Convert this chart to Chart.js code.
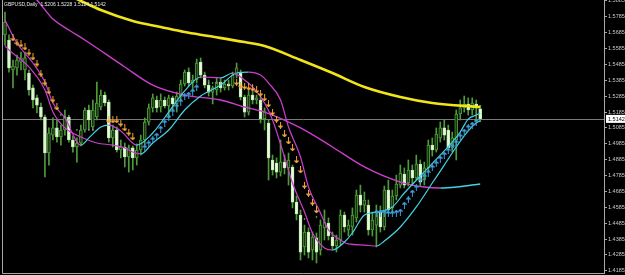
<!DOCTYPE html>
<html>
<head>
<meta charset="utf-8">
<script src="https://cdn.jsdelivr.net/npm/chart.js@4.4.1/dist/chart.umd.min.js"></script>
<style>
  html, body { margin: 0; padding: 0; background: #000; }
  canvas { display: block; }
</style>
</head>
<body>
<canvas id="chart" width="625" height="275"></canvas>
<script>
// Données GBPUSD Daily
const symbolTitle = 'GBPUSD,Daily  1.5206 1.5228 1.5124 1.5142';
const lastPrice = 1.5142;
const tickLabels = ['1.5885', '1.5785', '1.5685', '1.5585', '1.5485', '1.5385', '1.5285', '1.5185', '1.5085',
  '1.4985', '1.4885', '1.4785', '1.4685', '1.4585', '1.4485', '1.4385', '1.4285', '1.4185'];

const opens = [
  1.5671, 1.5639, 1.5450, 1.5463, 1.5500, 1.5450, 1.5431, 1.5337, 1.5274, 1.5217,
  1.5154, 1.4927, 1.5040, 1.5085, 1.5028, 1.5072, 1.5154, 1.5009, 1.4965, 1.4990,
  1.5072, 1.5198, 1.5091, 1.5154, 1.5217, 1.5292, 1.5248, 1.5022, 1.5072, 1.4946,
  1.4965, 1.4902, 1.4959, 1.4896, 1.4946, 1.5009, 1.5122, 1.5211, 1.5261, 1.5217,
  1.5261, 1.5223, 1.5274, 1.5236, 1.5286, 1.5362, 1.5437, 1.5368, 1.5387, 1.5500,
  1.5418, 1.5355, 1.5311, 1.5324, 1.5374, 1.5337, 1.5362, 1.5349, 1.5418, 1.5431,
  1.5280, 1.5185, 1.5292, 1.5261, 1.5261, 1.5141, 1.5116, 1.4883, 1.4864, 1.4807,
  1.4870, 1.4833, 1.4839, 1.4618, 1.4536, 1.4335, 1.4429, 1.4316, 1.4392, 1.4316,
  1.4455, 1.4486, 1.4398, 1.4341, 1.4379, 1.4536, 1.4442, 1.4461, 1.4518, 1.4662,
  1.4599, 1.4599, 1.4442, 1.4473, 1.4555, 1.4461, 1.4694, 1.4581, 1.4656, 1.4725,
  1.4795, 1.4738, 1.4820, 1.4770, 1.4858, 1.4757, 1.4833, 1.4977, 1.4946, 1.5022,
  1.5085, 1.5072, 1.4959, 1.5009, 1.5173, 1.5211, 1.5236, 1.5198, 1.5236, 1.5206
];
const highs = [
  1.5815, 1.5671, 1.5513, 1.5544, 1.5563, 1.5563, 1.5450, 1.5355, 1.5292, 1.5242,
  1.5166, 1.5085, 1.5148, 1.5135, 1.5103, 1.5198, 1.5166, 1.5034, 1.5022, 1.5103,
  1.5211, 1.5229, 1.5261, 1.5374, 1.5324, 1.5311, 1.5261, 1.5103, 1.5091, 1.5009,
  1.4990, 1.4977, 1.4971, 1.4984, 1.5040, 1.5148, 1.5236, 1.5299, 1.5286, 1.5299,
  1.5280, 1.5292, 1.5286, 1.5311, 1.5387, 1.5450, 1.5463, 1.5418, 1.5519, 1.5526,
  1.5437, 1.5387, 1.5349, 1.5400, 1.5400, 1.5387, 1.5387, 1.5437, 1.5494, 1.5450,
  1.5292, 1.5337, 1.5324, 1.5292, 1.5280, 1.5211, 1.5135, 1.4914, 1.4896, 1.5009,
  1.4914, 1.4927, 1.4851, 1.4656, 1.4568, 1.4473, 1.4455, 1.4429, 1.4423, 1.4505,
  1.4568, 1.4518, 1.4429, 1.4410, 1.4568, 1.4555, 1.4505, 1.4581, 1.4694, 1.4725,
  1.4681, 1.4631, 1.4555, 1.4599, 1.4593, 1.4719, 1.4757, 1.4694, 1.4788, 1.4851,
  1.4833, 1.4883, 1.4851, 1.4914, 1.4883, 1.4870, 1.5009, 1.5022, 1.5085, 1.5122,
  1.5135, 1.5103, 1.5059, 1.5198, 1.5261, 1.5286, 1.5274, 1.5274, 1.5261, 1.5228
];
const lows = [
  1.5607, 1.5437, 1.5337, 1.5418, 1.5450, 1.5387, 1.5292, 1.5211, 1.5179, 1.5135,
  1.4776, 1.4851, 1.5009, 1.4996, 1.4977, 1.5040, 1.4996, 1.4933, 1.4870, 1.4971,
  1.5059, 1.5072, 1.5072, 1.5135, 1.5198, 1.5223, 1.4996, 1.4965, 1.4933, 1.4896,
  1.4839, 1.4807, 1.4820, 1.4851, 1.4914, 1.4977, 1.5103, 1.5185, 1.5185, 1.5185,
  1.5211, 1.5148, 1.5198, 1.5185, 1.5261, 1.5349, 1.5349, 1.5324, 1.5368, 1.5400,
  1.5337, 1.5286, 1.5236, 1.5292, 1.5311, 1.5324, 1.5324, 1.5337, 1.5400, 1.5261,
  1.5154, 1.5166, 1.5236, 1.5236, 1.5116, 1.5072, 1.4757, 1.4788, 1.4770, 1.4782,
  1.4795, 1.4725, 1.4581, 1.4505, 1.4253, 1.4284, 1.4266, 1.4253, 1.4234, 1.4284,
  1.4379, 1.4379, 1.4316, 1.4303, 1.4347, 1.4429, 1.4404, 1.4410, 1.4492, 1.4555,
  1.4555, 1.4410, 1.4404, 1.4335, 1.4429, 1.4442, 1.4555, 1.4549, 1.4631, 1.4707,
  1.4707, 1.4719, 1.4725, 1.4757, 1.4719, 1.4725, 1.4807, 1.4908, 1.4933, 1.4996,
  1.5009, 1.4946, 1.4933, 1.4883, 1.5135, 1.5185, 1.5166, 1.5166, 1.5122, 1.5124
];
const closes = [
  1.5752, 1.5463, 1.5475, 1.5513, 1.5526, 1.5526, 1.5324, 1.5261, 1.5229, 1.5154,
  1.4927, 1.5053, 1.5085, 1.5028, 1.5072, 1.5154, 1.5009, 1.4965, 1.4990, 1.5072,
  1.5198, 1.5135, 1.5198, 1.5242, 1.5292, 1.5242, 1.5022, 1.5072, 1.4946, 1.4965,
  1.4902, 1.4959, 1.4896, 1.4946, 1.5009, 1.5122, 1.5211, 1.5274, 1.5211, 1.5261,
  1.5223, 1.5274, 1.5236, 1.5286, 1.5362, 1.5437, 1.5368, 1.5387, 1.5494, 1.5418,
  1.5355, 1.5311, 1.5337, 1.5374, 1.5337, 1.5362, 1.5349, 1.5418, 1.5463, 1.5280,
  1.5185, 1.5292, 1.5261, 1.5274, 1.5141, 1.5192, 1.4896, 1.4820, 1.4807, 1.4870,
  1.4833, 1.4883, 1.4618, 1.4543, 1.4303, 1.4429, 1.4303, 1.4398, 1.4303, 1.4473,
  1.4492, 1.4404, 1.4341, 1.4379, 1.4536, 1.4461, 1.4473, 1.4536, 1.4662, 1.4599,
  1.4631, 1.4442, 1.4505, 1.4555, 1.4461, 1.4694, 1.4568, 1.4656, 1.4732, 1.4801,
  1.4725, 1.4820, 1.4770, 1.4858, 1.4744, 1.4833, 1.4977, 1.4946, 1.5047, 1.5085,
  1.5040, 1.4959, 1.5022, 1.5173, 1.5211, 1.5236, 1.5198, 1.5242, 1.5211, 1.5142
];

// Indicateurs : [indice de barre, valeur]
const yellowMA = [[0, 1.6143], [10, 1.5986], [18, 1.5897], [24, 1.5828], [32, 1.5759], [39, 1.5721],
  [45, 1.5689], [51, 1.5664], [60, 1.5626], [65, 1.5601], [74, 1.5513], [82, 1.5431], [90, 1.5343],
  [99, 1.5280], [107, 1.5242], [119, 1.5217]];
const longMA = [[0, 1.6080], [4, 1.5986], [8, 1.5891], [12, 1.5771], [16, 1.5702], [20, 1.5639],
  [30, 1.5469], [37, 1.5355], [45, 1.5292], [54, 1.5261], [60, 1.5217], [65, 1.5185], [74, 1.5085],
  [82, 1.4965], [90, 1.4839], [99, 1.4744], [105, 1.4713], [109, 1.4707], [113, 1.4713], [119, 1.4732]];
const fastMA = [[0, 1.5765], [3, 1.5620], [7, 1.5494], [10, 1.5374], [12, 1.5242], [15, 1.5148],
  [19, 1.4977], [21, 1.5022], [24, 1.5091], [26, 1.5103], [29, 1.5066], [33, 1.4977], [37, 1.5053],
  [41, 1.5185], [45, 1.5318], [49, 1.5406], [54, 1.5400], [57, 1.5431], [60, 1.5387], [62, 1.5343],
  [65, 1.5242], [67, 1.5135], [70, 1.4902], [72, 1.4738], [75, 1.4555], [77, 1.4423], [80, 1.4329],
  [82, 1.4316], [85, 1.4366], [87, 1.4423], [90, 1.4536], [93, 1.4555], [97, 1.4587], [100, 1.4675],
  [104, 1.4782], [109, 1.4914], [112, 1.4996], [114, 1.5059], [116, 1.5141], [118, 1.5166], [119, 1.5179]];
const slowMA = [[0, 1.5601], [1, 1.5576], [6, 1.5469], [10, 1.5324], [12, 1.5185], [15, 1.5085],
  [19, 1.5028], [23, 1.4990], [27, 1.4977], [30, 1.4959], [32, 1.4933], [34, 1.4921], [37, 1.4990],
  [41, 1.5072], [45, 1.5198], [49, 1.5286], [54, 1.5355], [58, 1.5431], [61, 1.5437], [64, 1.5418],
  [66, 1.5368], [69, 1.5261], [71, 1.5091], [74, 1.4902], [76, 1.4713], [79, 1.4549], [81, 1.4442],
  [84, 1.4379], [86, 1.4354], [90, 1.4347], [93, 1.4341], [95, 1.4373], [99, 1.4461], [103, 1.4587],
  [107, 1.4738], [110, 1.4851], [113, 1.4965], [116, 1.5066], [118, 1.5116], [119, 1.5129]];

// Signaux : flèches de vente / d'achat, points gris
const sellArrows = [[2, 1.5652], [3, 1.5626], [4, 1.5614], [5, 1.5595], [6, 1.5563], [7, 1.5532],
  [8, 1.5494], [9, 1.5431], [10, 1.5374], [11, 1.5318], [12, 1.5267], [13, 1.5217],
  [26, 1.5135], [27, 1.5135], [28, 1.5135], [29, 1.5116], [30, 1.5085], [31, 1.5059], [32, 1.5028],
  [58, 1.5374], [59, 1.5355], [60, 1.5349], [61, 1.5343], [62, 1.5337], [63, 1.5324], [64, 1.5305],
  [65, 1.5274], [66, 1.5236], [67, 1.5185], [68, 1.5141], [69, 1.5103], [70, 1.5047], [71, 1.5003],
  [72, 1.4959], [73, 1.4883], [74, 1.4820], [75, 1.4725], [76, 1.4675], [77, 1.4618], [78, 1.4568]];
const buyArrows = [[35, 1.4959], [36, 1.4984], [37, 1.5009], [38, 1.5034], [39, 1.5078], [40, 1.5116],
  [41, 1.5148], [42, 1.5185], [43, 1.5217], [44, 1.5248], [45, 1.5280], [46, 1.5292], [47, 1.5311],
  [48, 1.5337], [93, 1.4549], [94, 1.4549], [95, 1.4549], [96, 1.4543], [97, 1.4543], [98, 1.4549],
  [99, 1.4555], [100, 1.4599], [101, 1.4631], [102, 1.4675], [103, 1.4707], [104, 1.4751],
  [105, 1.4776], [106, 1.4801], [107, 1.4833], [108, 1.4858], [109, 1.4889], [110, 1.4914],
  [111, 1.4940], [112, 1.4965], [113, 1.4990], [114, 1.5028], [115, 1.5059], [116, 1.5085],
  [117, 1.5103], [118, 1.5122]];
const grayDots = [[14, 1.5166], [15, 1.5154], [16, 1.5135], [18, 1.5072], [21, 1.5072], [22, 1.5072],
  [51, 1.5368], [52, 1.5368], [53, 1.5368], [54, 1.5368], [56, 1.5362], [75, 1.4511], [78, 1.4524]];

const MAGENTA = '#cc3fcc';
const CYAN = '#45d3e3';

const toPoints = (pairs) => pairs.map(([x, y]) => ({ x, y }));

// Couleur selon la pente : magenta en baisse, cyan en hausse
const slopeColor = (ctx) => (ctx.p1.parsed.y > ctx.p0.parsed.y ? CYAN : MAGENTA);

/**
 * Crée une petite flèche (vers le haut ou le bas) sous forme de canvas
 */
function makeArrow(color, up) {
    const c = document.createElement('canvas');
    c.width = 5;
    c.height = 7;
    const g = c.getContext('2d');
    g.fillStyle = color;
    if (up) {
        g.fillRect(2, 0, 1, 1);
        g.fillRect(1, 1, 3, 1);
        g.fillRect(0, 2, 5, 1);
        g.fillRect(2, 3, 1, 4);
    } else {
        g.fillRect(2, 0, 1, 4);
        g.fillRect(0, 4, 5, 1);
        g.fillRect(1, 5, 3, 1);
        g.fillRect(2, 6, 1, 1);
    }
    return c;
}

const wickData = opens.map((o, i) => ({ x: i, y: [lows[i], highs[i]] }));
const bodyData = opens.map((o, i) => ({ x: i, y: [o, closes[i]] }));
const isBull = (i) => closes[i] >= opens[i];

// Éléments de décor MT4 : ligne de prix, titre, étiquette du dernier prix, cadre
const terminalPlugin = {
    id: 'terminal',
    beforeDatasetsDraw(chart) {
        const { ctx, chartArea } = chart;
        const y = Math.round(chart.scales.y.getPixelForValue(lastPrice)) + 0.5;
        ctx.save();
        ctx.strokeStyle = '#7a7a7a';
        ctx.lineWidth = 1;
        ctx.beginPath();
        ctx.moveTo(chartArea.left, y);
        ctx.lineTo(chartArea.right, y);
        ctx.stroke();
        ctx.restore();
    },
    afterDraw(chart) {
        const { ctx, chartArea } = chart;
        ctx.save();
        // cadre gauche et bas
        ctx.strokeStyle = '#a8a8a8';
        ctx.lineWidth = 1;
        ctx.beginPath();
        ctx.moveTo(2.5, 0);
        ctx.lineTo(2.5, chartArea.bottom + 0.5);
        ctx.lineTo(chartArea.right, chartArea.bottom + 0.5);
        ctx.stroke();
        // titre
        ctx.fillStyle = '#e8e8e8';
        ctx.font = '5px "Liberation Sans", Arial, sans-serif';
        ctx.textBaseline = 'top';
        ctx.fillText(symbolTitle, 4, 2);
        // étiquette du dernier prix
        const y = chart.scales.y.getPixelForValue(lastPrice);
        ctx.fillStyle = '#ffffff';
        ctx.fillRect(chartArea.right + 2, y - 4, 19, 8);
        ctx.fillStyle = '#000000';
        ctx.font = '5.5px "Liberation Sans", Arial, sans-serif';
        ctx.textBaseline = 'middle';
        ctx.fillText(lastPrice.toFixed(4), chartArea.right + 4, y + 0.5);
        ctx.restore();
    }
};

const lineBase = {
    type: 'line',
    pointRadius: 0,
    spanGaps: true,
    cubicInterpolationMode: 'monotone'
};

new Chart(document.getElementById('chart'), {
    data: {
        datasets: [
            { ...lineBase, data: toPoints(yellowMA), borderColor: '#f2e41c', borderWidth: 2.6, order: 5 },
            { ...lineBase, data: toPoints(longMA), borderColor: MAGENTA, borderWidth: 1.4,
              segment: { borderColor: slopeColor }, order: 4 },
            { ...lineBase, data: toPoints(slowMA), borderColor: MAGENTA, borderWidth: 1.2,
              segment: { borderColor: slopeColor }, order: 3 },
            { ...lineBase, data: toPoints(fastMA), borderColor: MAGENTA, borderWidth: 1.2,
              segment: { borderColor: slopeColor }, order: 2 },
            {
                type: 'bar', data: wickData, grouped: false, barThickness: 1,
                backgroundColor: '#4f9a3c', order: 10
            },
            {
                type: 'bar', data: bodyData, grouped: false, barThickness: 3,
                borderSkipped: false, borderWidth: 1, minBarLength: 1,
                backgroundColor: (c) => (isBull(c.dataIndex) ? '#17340f' : '#e6fadc'),
                borderColor: (c) => (isBull(c.dataIndex) ? '#4f9a3c' : '#c4ecb2'),
                order: 9
            },
            { type: 'line', data: toPoints(sellArrows), showLine: false,
              pointStyle: makeArrow('#f0a236', false), order: 1 },
            { type: 'line', data: toPoints(buyArrows), showLine: false,
              pointStyle: makeArrow('#3c9ee0', true), order: 1 },
            { type: 'line', data: toPoints(grayDots), showLine: false, pointStyle: 'rect',
              pointRadius: 1, backgroundColor: '#9a9a9a', borderWidth: 0, order: 1 }
        ]
    },
    options: {
        responsive: false,
        animation: false,
        devicePixelRatio: 1,
        layout: { autoPadding: false, padding: { left: 3, top: 0, bottom: 2, right: 0 } },
        plugins: { legend: { display: false }, tooltip: { enabled: false } },
        scales: {
            x: { type: 'linear', min: -0.5, max: 150, offset: false, display: false },
            y: {
                position: 'right',
                min: 1.4171,
                max: 1.5891,
                afterFit: (scale) => {
                    scale.width = 21;
                    scale.paddingTop = 0;
                    scale.paddingBottom = 0;
                },
                afterBuildTicks: (scale) => {
                    scale.ticks = tickLabels.map((t) => ({ value: parseFloat(t) }));
                },
                ticks: {
                    autoSkip: false,
                    color: '#c8c8c8',
                    padding: 1,
                    font: { family: '"Liberation Sans", Arial, sans-serif', size: 5.5 },
                    callback: (v) => v.toFixed(4)
                },
                grid: { drawOnChartArea: false, tickLength: 3, color: '#a8a8a8' },
                border: { color: '#a8a8a8' }
            }
        }
    },
    plugins: [terminalPlugin]
});
</script>
</body>
</html>
